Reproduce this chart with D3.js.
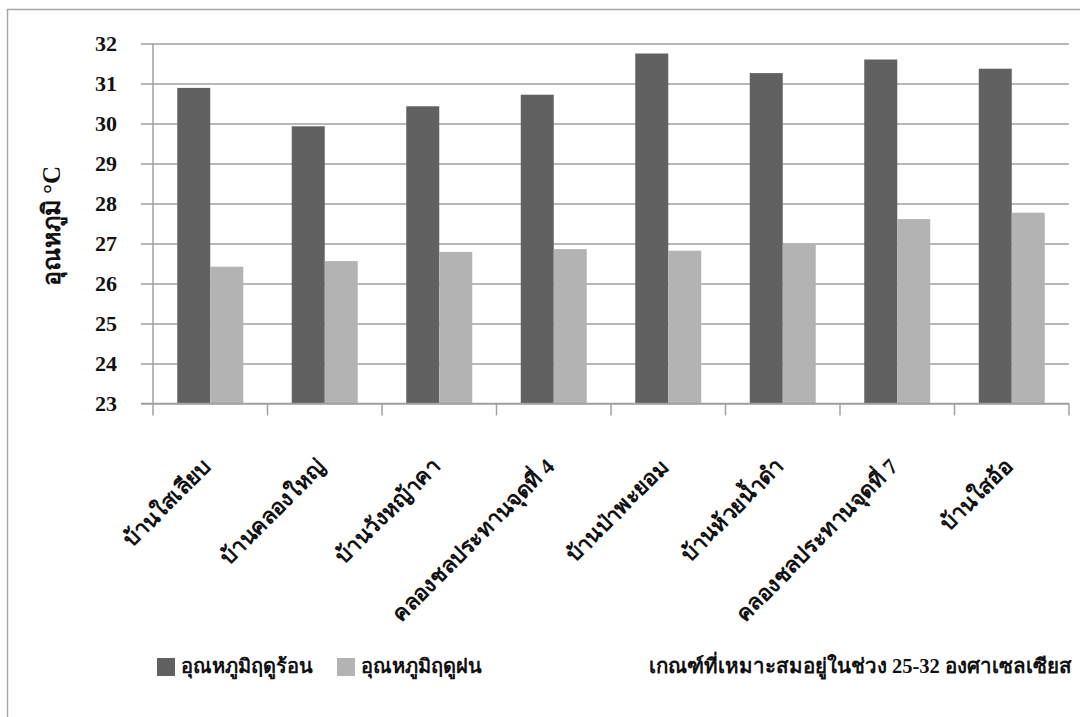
<!DOCTYPE html>
<html>
<head>
<meta charset="utf-8">
<script src="https://cdn.jsdelivr.net/npm/d3@7"></script>
<style>
  html, body { margin: 0; padding: 0; background: #fff; }
  svg { display: block; }
  text { font-family: "Liberation Serif", "Times New Roman", serif; }
</style>
</head>
<body>
<svg id="chart" width="1080" height="717"></svg>
<script>
// ---- data ----
const categories = [
  "บ้านใสเลียบ",
  "บ้านคลองใหญ่",
  "บ้านวังหญ้าคา",
  "คลองชลประทานจุดที่ 4",
  "บ้านป่าพะยอม",
  "บ้านห้วยน้ำดำ",
  "คลองชลประทานจุดที่ 7",
  "บ้านใสอ้อ"
];
const seriesNames = ["อุณหภูมิฤดูร้อน", "อุณหภูมิฤดูฝน"];
const hotSeason = [30.89, 29.93, 30.43, 30.72, 31.75, 31.26, 31.6, 31.37];
const rainySeason = [26.42, 26.56, 26.79, 26.86, 26.82, 26.99, 27.61, 27.77];
const yTicks = [23, 24, 25, 26, 27, 28, 29, 30, 31, 32];
const yTitle = "อุณหภูมิ °C";
const noteText = "เกณฑ์ที่เหมาะสมอยู่ในช่วง 25-32 องศาเซลเซียส";

const colors = ["#616161", "#b3b3b3"];

const svg = d3.select("#chart");

// outer border
svg.append("rect")
  .attr("x", 7.5).attr("y", 9.5)
  .attr("width", 1100).attr("height", 750)
  .attr("fill", "#fff")
  .attr("stroke", "#a6a6a6").attr("stroke-width", 1.5);

const plotLeft = 153, plotRight = 1069, plotTop = 43.5, plotBottom = 403.5;

const y = d3.scaleLinear().domain([23, 32]).range([plotBottom, plotTop]);
const x0 = d3.scaleBand().domain(categories).range([plotLeft, plotRight]).padding(0);
const x1 = d3.scaleBand().domain(seriesNames).range([0, x0.bandwidth()])
  .paddingInner(0).paddingOuter(0.735);

// gridlines + y tick labels
const yAxis = svg.append("g")
  .attr("transform", `translate(141,0)`)
  .call(d3.axisLeft(y).tickValues(yTicks).tickSize(-(plotRight - 141)).tickPadding(24));
yAxis.attr("font-family", null).attr("font-size", null);
yAxis.select(".domain").remove();
yAxis.selectAll(".tick line").attr("stroke", "#a0a0a0").attr("stroke-width", 1.5)
  .attr("x1", 0).attr("x2", plotRight - 141);
yAxis.selectAll(".tick text")
  .style("font-family", "'Liberation Serif', 'Times New Roman', serif")
  .style("font-weight", "bold")
  .style("font-size", "22px")
  .attr("fill", "#111");

// bars
const rows = categories.map((c, i) => ({ cat: c, values: [hotSeason[i], rainySeason[i]] }));
const groups = svg.append("g").selectAll("g")
  .data(rows).join("g")
  .attr("transform", d => `translate(${x0(d.cat)},0)`);
groups.selectAll("rect")
  .data(d => d.values.map((v, j) => ({ s: seriesNames[j], v, j })))
  .join("rect")
  .attr("x", d => x1(d.s))
  .attr("y", d => y(d.v))
  .attr("width", x1.bandwidth())
  .attr("height", d => y(23) - y(d.v))
  .attr("fill", d => colors[d.j]);

// x axis line and ticks at band boundaries
const xAxisG = svg.append("g").attr("stroke", "#a0a0a0").attr("stroke-width", 1.5);
xAxisG.append("line")
  .attr("x1", 141).attr("x2", plotRight)
  .attr("y1", plotBottom).attr("y2", plotBottom);
xAxisG.append("line")
  .attr("x1", plotLeft).attr("x2", plotLeft)
  .attr("y1", plotTop).attr("y2", plotBottom);
const boundaries = categories.map(c => x0(c)).concat([x0.range()[1]]);
xAxisG.selectAll("line.tick").data(boundaries).join("line")
  .attr("class", "tick")
  .attr("x1", d => d).attr("x2", d => d)
  .attr("y1", plotBottom).attr("y2", plotBottom + 12);

// x labels
svg.append("g").selectAll("text")
  .data(categories).join("text")
  .attr("transform", d => `translate(${x0(d) + x0.bandwidth() / 2 + 2},${468}) rotate(-45)`)
  .attr("text-anchor", "end")
  .attr("font-weight", "bold")
  .attr("font-size", 22)
  .attr("fill", "#111")
  .text(d => d);

// y title
svg.append("text")
  .attr("transform", `translate(60,226) rotate(-90)`)
  .attr("text-anchor", "middle")
  .attr("font-weight", "bold")
  .attr("font-size", 25)
  .attr("fill", "#111")
  .text(yTitle);

// legend
const legendX = [157, 337];
const lg = svg.append("g").selectAll("g")
  .data(seriesNames).join("g")
  .attr("transform", (d, i) => `translate(${legendX[i]},658)`);
lg.append("rect").attr("width", 18).attr("height", 18).attr("fill", (d, i) => colors[i]);
lg.append("text")
  .attr("x", 24).attr("y", 15)
  .attr("font-weight", "bold")
  .attr("font-size", 20)
  .attr("fill", "#111")
  .text(d => d);

// note
svg.append("text")
  .attr("x", 1072).attr("y", 673)
  .attr("text-anchor", "end")
  .attr("font-weight", "bold")
  .attr("font-size", 20.5)
  .attr("fill", "#111")
  .text(noteText);
</script>
</body>
</html>
